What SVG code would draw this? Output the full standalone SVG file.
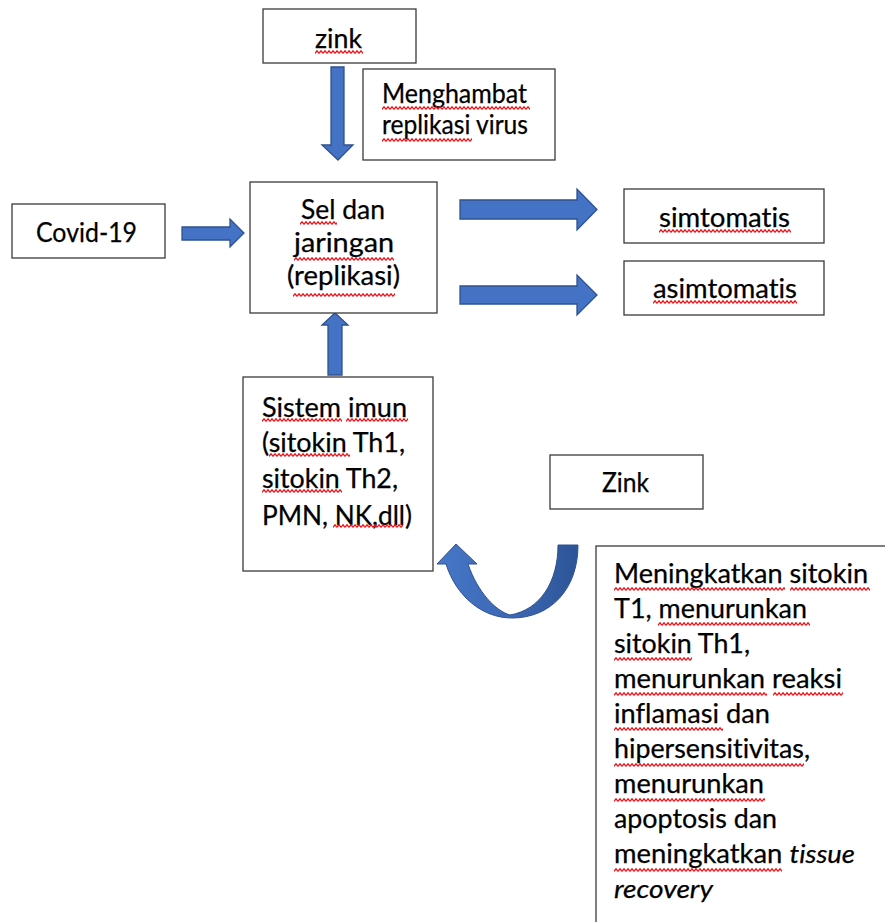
<svg xmlns="http://www.w3.org/2000/svg" width="885" height="922" viewBox="0 0 885 922">
<style>
.box{fill:#fff;stroke:#3a3a3a;stroke-width:1.3}
.t{font-family:Lato,"Open Sans","Liberation Sans",sans-serif;font-size:26px;fill:#000;font-variant-ligatures:none;stroke:#000;stroke-width:0.25}
.arr{fill:#4472C4;stroke:#2F528F;stroke-width:1.3}
.sq{fill:url(#wave)}
</style>
<defs>
<pattern id="wave" width="4" height="4" patternUnits="userSpaceOnUse">
<polyline points="0,3.4 2,0.8 4,3.4" fill="none" stroke="#E8141B" stroke-width="1.3"/>
</pattern>
<linearGradient id="ug" x1="0" y1="0" x2="1" y2="0">
<stop offset="0" stop-color="#4677C8"/>
<stop offset="0.6" stop-color="#3A65B2"/>
<stop offset="1" stop-color="#2C5496"/>
</linearGradient>
</defs>
<rect width="885" height="922" fill="#fff"/>

<g id="connectors">
<path class="arr" d="M331,67 H344 V145 H353 L338,160 L322,145 H331 Z"/>
<path class="arr" d="M182,227 H230 V219 L244,233 L230,247 V240 H182 Z"/>
<path class="arr" d="M460,200 H577 V189 L597,209.5 L577,230 V219 H460 Z"/>
<path class="arr" d="M460,286 H577 V275 L597,295 L577,315 V304 H460 Z"/>
<path class="arr" d="M328,375 V325 H322 L335,313 L348,325 H342 V375 Z"/>
<path d="M578,545 C578,590 550,618 512,618 C482,618 456,596 446,564 L437,564 L456,544 L477,564 L468,564 C478,593 496,611 510,615 C540,610 558,582 558,545 Z" fill="url(#ug)" stroke="#2F528F" stroke-width="1"/>
</g>

<g id="node-zink">
<rect class="box" x="263" y="9" width="153" height="54"/>
<text class="t" x="315" y="48" textLength="47" lengthAdjust="spacingAndGlyphs">zink</text>
<g transform="translate(315,50)"><rect class="sq" width="48" height="4"/></g>
</g>

<g id="node-menghambat">
<rect class="box" x="363" y="69" width="192" height="91"/>
<text class="t" x="382" y="103" textLength="145" lengthAdjust="spacingAndGlyphs">Menghambat</text>
<text class="t" x="382" y="134" textLength="146" lengthAdjust="spacingAndGlyphs">replikasi virus</text>
<g transform="translate(382,106)"><rect class="sq" width="148" height="4"/></g>
<g transform="translate(382,138)"><rect class="sq" width="90" height="4"/></g>
</g>

<g id="node-covid">
<rect class="box" x="12" y="204" width="153" height="54"/>
<text class="t" x="36" y="242" textLength="101" lengthAdjust="spacingAndGlyphs">Covid-19</text>
</g>

<g id="node-sel">
<rect class="box" x="250" y="182" width="187" height="131"/>
<text class="t" x="301" y="219" textLength="84" lengthAdjust="spacingAndGlyphs">Sel dan</text>
<text class="t" x="294" y="252" textLength="100" lengthAdjust="spacingAndGlyphs">jaringan</text>
<text class="t" x="287" y="285" textLength="113" lengthAdjust="spacingAndGlyphs">(replikasi)</text>
<g transform="translate(300,221)"><rect class="sq" width="37" height="4"/></g>
<g transform="translate(294,257)"><rect class="sq" width="100" height="4"/></g>
<g transform="translate(293,293)"><rect class="sq" width="102" height="4"/></g>
</g>

<g id="node-simtomatis">
<rect class="box" x="624" y="189" width="200" height="54"/>
<text class="t" x="659" y="227" textLength="131" lengthAdjust="spacingAndGlyphs">simtomatis</text>
<g transform="translate(659,229)"><rect class="sq" width="132" height="4"/></g>
</g>

<g id="node-asimtomatis">
<rect class="box" x="624" y="261" width="200" height="54"/>
<text class="t" x="653" y="298" textLength="144" lengthAdjust="spacingAndGlyphs">asimtomatis</text>
<g transform="translate(653,300)"><rect class="sq" width="144" height="4"/></g>
</g>

<g id="node-sistem-imun">
<rect class="box" x="243" y="377" width="190" height="194"/>
<text class="t" x="262" y="417" textLength="145" lengthAdjust="spacingAndGlyphs">Sistem imun</text>
<text class="t" x="262" y="452" textLength="143" lengthAdjust="spacingAndGlyphs">(sitokin Th1,</text>
<text class="t" x="262" y="488" textLength="136" lengthAdjust="spacingAndGlyphs">sitokin Th2,</text>
<text class="t" x="262" y="525" textLength="150" lengthAdjust="spacingAndGlyphs">PMN, NK,dll)</text>
<g transform="translate(262,418)"><rect class="sq" width="80" height="4"/></g>
<g transform="translate(346,418)"><rect class="sq" width="62" height="4"/></g>
<g transform="translate(269,453)"><rect class="sq" width="81" height="4"/></g>
<g transform="translate(262,489)"><rect class="sq" width="80" height="4"/></g>
<g transform="translate(333,524)"><rect class="sq" width="70" height="4"/></g>
</g>

<g id="node-zink2">
<rect class="box" x="550" y="455" width="153" height="54"/>
<text class="t" x="602" y="492" textLength="47" lengthAdjust="spacingAndGlyphs">Zink</text>
</g>

<g id="node-keterangan">
<rect class="box" x="596" y="546" width="320" height="420"/>
<text class="t" x="614" y="583" textLength="254" lengthAdjust="spacingAndGlyphs">Meningkatkan sitokin</text>
<text class="t" x="614" y="618" textLength="193" lengthAdjust="spacingAndGlyphs">T1, menurunkan</text>
<text class="t" x="614" y="653" textLength="136" lengthAdjust="spacingAndGlyphs">sitokin Th1,</text>
<text class="t" x="614" y="688" textLength="228" lengthAdjust="spacingAndGlyphs">menurunkan reaksi</text>
<text class="t" x="614" y="723" textLength="156" lengthAdjust="spacingAndGlyphs">inflamasi dan</text>
<text class="t" x="614" y="758" textLength="196" lengthAdjust="spacingAndGlyphs">hipersensitivitas,</text>
<text class="t" x="614" y="793" textLength="150" lengthAdjust="spacingAndGlyphs">menurunkan</text>
<text class="t" x="614" y="828" textLength="163" lengthAdjust="spacingAndGlyphs">apoptosis dan</text>
<text class="t" x="614" y="863" textLength="241" lengthAdjust="spacingAndGlyphs">meningkatkan <tspan font-style="italic">tissue</tspan></text>
<text class="t" x="614" y="898" textLength="99" lengthAdjust="spacingAndGlyphs" font-style="italic">recovery</text>
<g transform="translate(614,587)"><rect class="sq" width="171" height="4"/></g>
<g transform="translate(790,587)"><rect class="sq" width="80" height="4"/></g>
<g transform="translate(658,622)"><rect class="sq" width="152" height="4"/></g>
<g transform="translate(614,657)"><rect class="sq" width="78" height="4"/></g>
<g transform="translate(614,692)"><rect class="sq" width="153" height="4"/></g>
<g transform="translate(773,692)"><rect class="sq" width="70" height="4"/></g>
<g transform="translate(614,727)"><rect class="sq" width="109" height="4"/></g>
<g transform="translate(614,763)"><rect class="sq" width="190" height="4"/></g>
<g transform="translate(614,798)"><rect class="sq" width="151" height="4"/></g>
<g transform="translate(614,868)"><rect class="sq" width="168" height="4"/></g>
</g>
</svg>
